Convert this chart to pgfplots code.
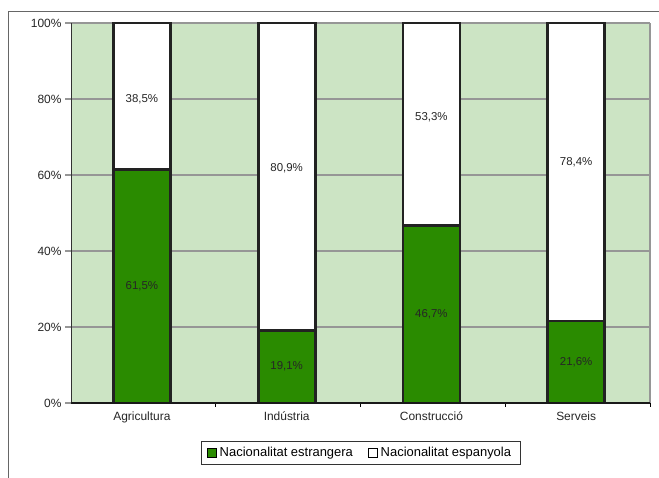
\documentclass[border=0pt]{standalone}
\usepackage{pgfplots}
\pgfplotsset{compat=1.18}
\usepackage{fontspec}
\setmainfont{Liberation Sans}
\definecolor{bgg}{RGB}{204,228,196}
\definecolor{barg}{RGB}{42,139,0}
\definecolor{gridg}{RGB}{150,150,150}
\definecolor{edge}{RGB}{34,34,34}
\pgfplotsset{
  sqleg/.style={legend image code/.code={\draw[##1, line width=0.8bp, draw=black] (0bp,-4.5bp) rectangle (9bp,4.5bp);}},
}
\newcommand{\lf}{\fontsize{12}{14}\selectfont}
\newcommand{\vf}{\fontsize{11.5}{13}\selectfont}
\newcommand{\gf}{\fontsize{13}{15}\selectfont}
\begin{document}
\begin{tikzpicture}
\useasboundingbox (0,0) rectangle (659bp,478bp);
\draw[line width=0.8bp, black!60] (8bp,0) -- (8bp,467bp) -- (659bp,467bp);
\begin{axis}[
  name=ax,
  at={(71bp,75bp)}, anchor=south west,
  scale only axis, width=579bp, height=380bp,
  ybar stacked, bar width=57bp,
  xmin=-0.49, xmax=3.51, ymin=0, ymax=100,
  xtick={0,1,2,3}, xticklabels={Agricultura,Indústria,Construcció,Serveis},
  minor xtick={0.51,1.51,2.51,3.51},
  ytick={0,20,40,60,80,100},
  yticklabels={0\%,20\%,40\%,60\%,80\%,100\%},
  xtick pos=bottom, ytick pos=left,
  ymajorgrids, grid style={gridg, line width=2bp},
  major y tick style={gridg, line width=1.5bp},
  major x tick style={draw=none},
  minor x tick style={black, line width=0.8bp},
  tick align=outside, major tick length=6bp, minor tick length=4bp,
  axis background/.style={fill=bgg},
  axis line style={draw=none},
  tick label style={font=\lf, text=black!85},
  xticklabel style={yshift=1bp},
  legend style={at={(0.5,0)}, anchor=north, yshift=-38bp, legend columns=2,
    draw=black!80, line width=0.8bp, font=\gf,
    inner xsep=6bp, inner ysep=4bp,
    /tikz/every even column/.append style={column sep=12bp},
    nodes={inner xsep=3bp}},
  sqleg,
]
\addplot[fill=barg, draw=edge, line width=2.8bp] coordinates {(0,61.5) (1,19.1) (2,46.7) (3,21.6)};
\addplot[fill=white, draw=edge, line width=2.8bp] coordinates {(0,38.5) (1,80.9) (2,53.3) (3,78.4)};
\legend{Nacionalitat estrangera, Nacionalitat espanyola}
\coordinate (a1) at (axis cs:0,30.75);
\coordinate (a2) at (axis cs:0,80.0);
\coordinate (b1) at (axis cs:1,9.55);
\coordinate (b2) at (axis cs:1,61.8);
\coordinate (c1) at (axis cs:2,23.35);
\coordinate (c2) at (axis cs:2,75.3);
\coordinate (d1) at (axis cs:3,10.8);
\coordinate (d2) at (axis cs:3,63.4);
\end{axis}
\draw[gridg, line width=1.2bp] (ax.south east) -- (ax.north east);
\draw[black!80, line width=1bp] (ax.south west) -- (ax.north west);
\draw[black!90, line width=1.5bp] (ax.south west) -- (ax.south east);
\begin{scope}[every node/.style={font=\vf, text=black!85}]
\node at (a1) {61,5\%};
\node at (a2) {38,5\%};
\node at (b1) {19,1\%};
\node at (b2) {80,9\%};
\node at (c1) {46,7\%};
\node at (c2) {53,3\%};
\node at (d1) {21,6\%};
\node at (d2) {78,4\%};
\end{scope}
\end{tikzpicture}
\end{document}
